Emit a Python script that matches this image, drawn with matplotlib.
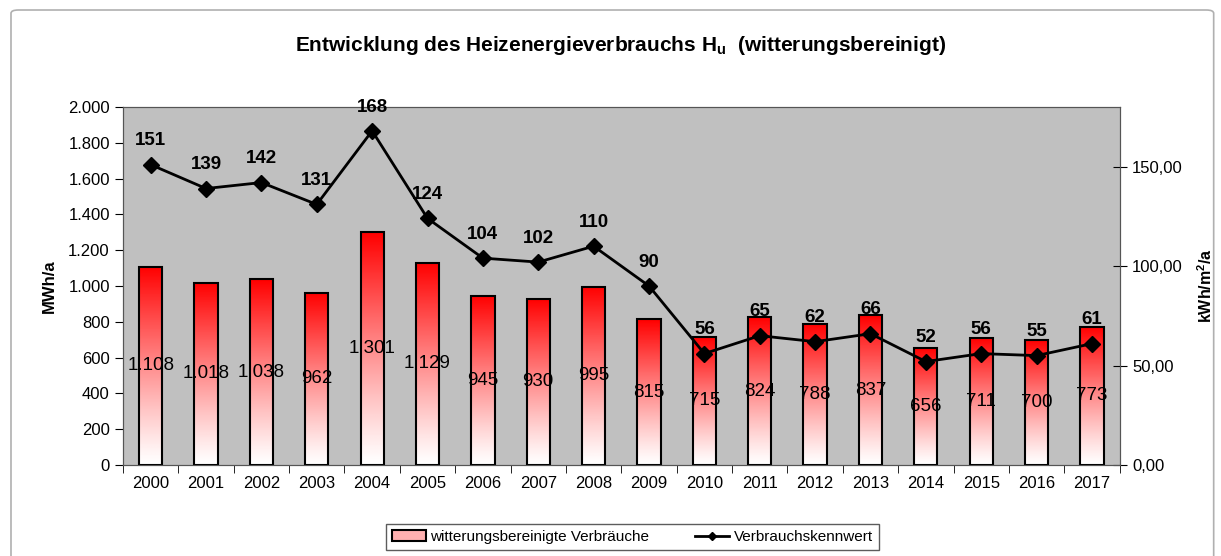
import numpy as np
import matplotlib
matplotlib.use('Agg')
from matplotlib import pyplot as plt
from matplotlib.colors import LinearSegmentedColormap
from matplotlib.patches import FancyBboxPatch, Patch
from matplotlib.lines import Line2D
from matplotlib.ticker import FuncFormatter, FixedLocator

plt.rcParams['font.family'] = ['Liberation Sans', 'DejaVu Sans']

years = [str(y) for y in range(2000, 2018)]
verbrauch = [1108, 1018, 1038, 962, 1301, 1129, 945, 930, 995,
             815, 715, 824, 788, 837, 656, 711, 700, 773]
kennwert = [151, 139, 142, 131, 168, 124, 104, 102, 110,
            90, 56, 65, 62, 66, 52, 56, 55, 61]

fig = plt.figure(figsize=(12.21, 5.56), dpi=100)
# light grey frame around the whole chart
fig.patches.append(FancyBboxPatch((0.009, -0.05), 0.985, 1.032,
                                  boxstyle='round,pad=0,rounding_size=0.006',
                                  transform=fig.transFigure, facecolor='none',
                                  edgecolor='#b0b0b0', linewidth=1.2))

ax = fig.add_axes([0.1007, 0.1637, 0.8163, 0.6439])
ax.set_facecolor('#c0c0c0')
x = np.arange(len(years))

cmap = LinearSegmentedColormap.from_list('wr', ['#ffffff', '#ff0000'])
bars = ax.bar(x, verbrauch, width=0.42, facecolor='none', edgecolor='black',
              linewidth=1.5, zorder=3)
grad = np.linspace(0, 1, 256).reshape(-1, 1) ** 1.15
for b in bars:
    ax.imshow(grad, cmap=cmap, origin='lower', aspect='auto', zorder=2,
              extent=(b.get_x(), b.get_x() + b.get_width(), 0, b.get_height()))
ax.set_xlim(-0.5, len(years) - 0.5)
ax.set_ylim(0, 2000)

for xi, v in zip(x, verbrauch):
    ax.text(xi, v / 2, f'{v:,}'.replace(',', '.'), ha='center', va='center',
            fontsize=13.5, zorder=4)

ax.set_xticks(x)
ax.set_xticklabels(years, fontsize=12)
ax.tick_params(axis='x', length=0, pad=8)
ax.xaxis.set_minor_locator(FixedLocator(np.arange(-0.5, len(years), 1)))
ax.tick_params(axis='x', which='minor', length=6, direction='out')
ax.set_yticks(range(0, 2001, 200))
ax.yaxis.set_major_formatter(FuncFormatter(lambda v, p: f'{int(v):,}'.replace(',', '.')))
ax.tick_params(axis='y', labelsize=12, length=6, direction='out')
ax.set_ylabel('MWh/a', fontsize=12, fontweight='bold', labelpad=8)
for s in ax.spines.values():
    s.set_color('#555555')

ax2 = ax.twinx()
ax2.set_ylim(0, 180)
ax2.plot(x, kennwert, color='black', linewidth=2, marker='D', markersize=8, zorder=5)
for xi, v in zip(x, kennwert):
    ax2.annotate(str(v), (xi, v), xytext=(0, 11), textcoords='offset points',
                 ha='center', va='bottom', fontsize=13.5, fontweight='bold')
ax2.set_yticks([0, 50, 100, 150])
ax2.yaxis.set_major_formatter(FuncFormatter(lambda v, p: f'{v:.2f}'.replace('.', ',')))
ax2.tick_params(axis='y', labelsize=12, length=10, direction='inout', pad=4)
ax2.set_ylabel('kWh/m$^\\mathregular{2}$/a', fontsize=11.5, fontweight='bold')
ax2.yaxis.set_label_coords(1.077, 0.5)
for s in ax2.spines.values():
    s.set_color('#555555')

fig.text(0.508, 0.918, 'Entwicklung des Heizenergieverbrauchs H$_\\mathregular{u}$  (witterungsbereinigt)',
         ha='center', va='center', fontsize=15, fontweight='bold')

handles = [Patch(facecolor='#ffb0b0', edgecolor='black', linewidth=1.5),
           Line2D([], [], color='black', linewidth=2, marker='D', markersize=4)]
fig.legend(handles, ['witterungsbereinigte Verbräuche', 'Verbrauchskennwert'],
           loc='center', bbox_to_anchor=(0.518, 0.034), ncol=2, fontsize=11,
           frameon=True, fancybox=False, edgecolor='#333333', borderpad=0.4,
           handlelength=2.2, columnspacing=3, handletextpad=0.3)

fig.savefig('out.png', dpi=100)
